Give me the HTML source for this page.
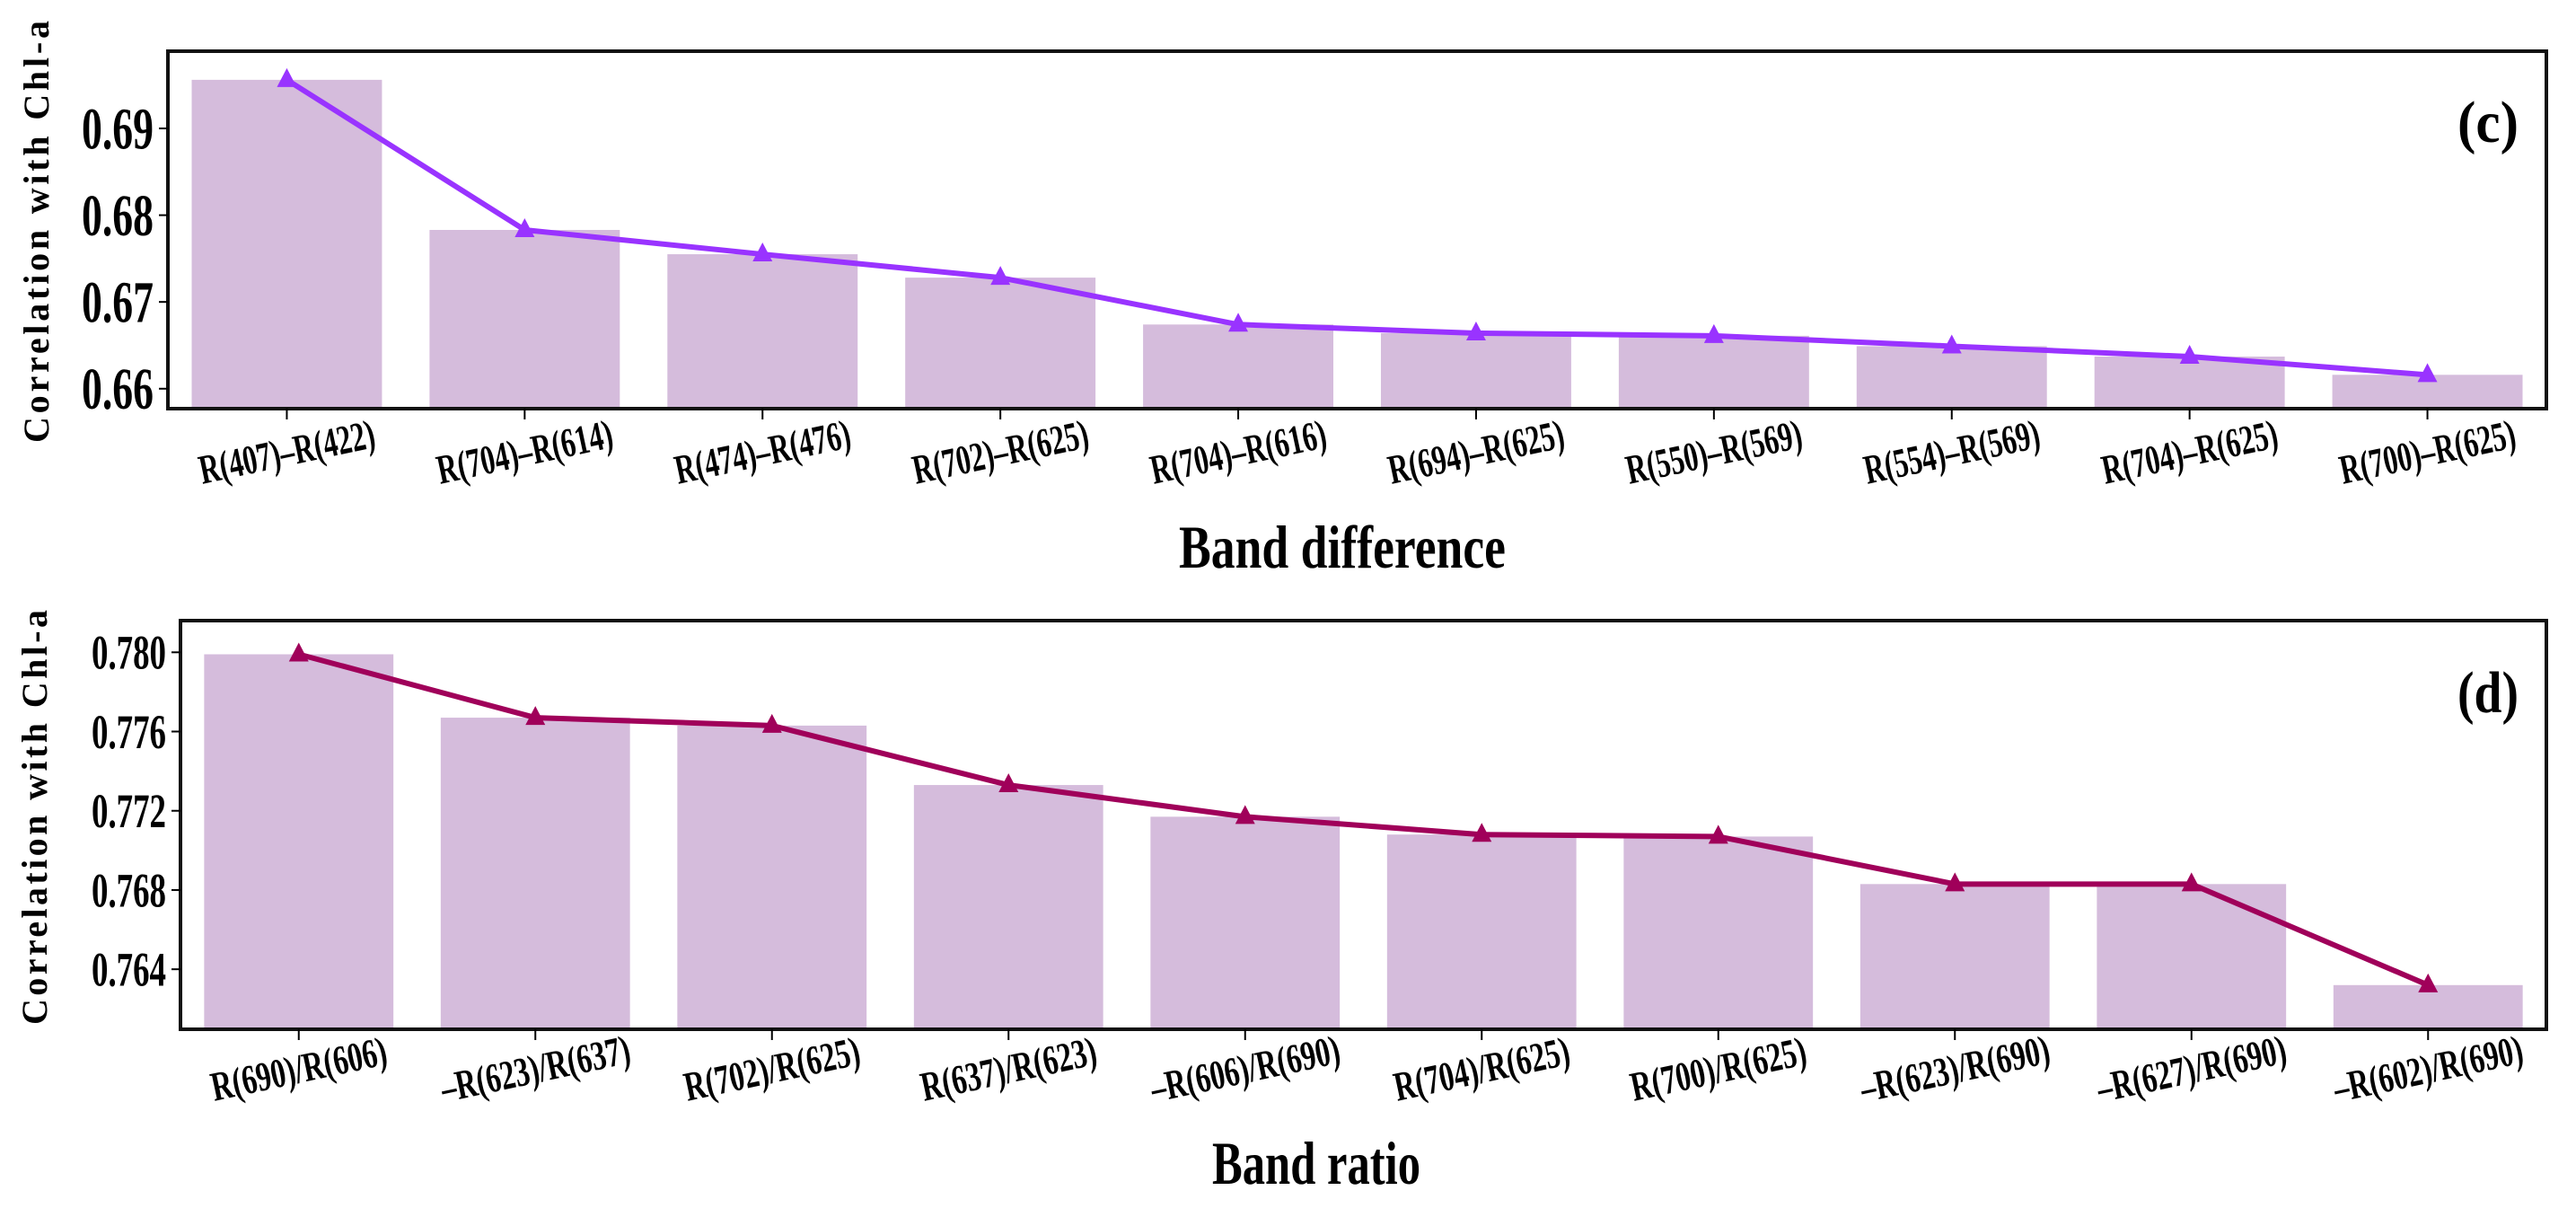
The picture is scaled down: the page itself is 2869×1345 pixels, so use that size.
<!DOCTYPE html>
<html><head><meta charset="utf-8"><style>
html,body{margin:0;padding:0;background:#fff;}
svg{display:block;}
text{font-family:"Liberation Serif",serif;font-weight:bold;fill:#000;}
</style></head><body>
<svg id="chart" width="2869" height="1345" viewBox="0 0 2869 1345" xmlns="http://www.w3.org/2000/svg"></svg>
<script>
// Panel (c) data
const catsC = ["R(407)–R(422)","R(704)–R(614)","R(474)–R(476)","R(702)–R(625)","R(704)–R(616)","R(694)–R(625)","R(550)–R(569)","R(554)–R(569)","R(704)–R(625)","R(700)–R(625)"];
const valsC = [0.6956,0.6783,0.6755,0.6728,0.6674,0.6664,0.6661,0.6649,0.6637,0.6616];
const ticksC = [0.66,0.67,0.68,0.69];
const tickLabelsC = ["0.66","0.67","0.68","0.69"];
// Panel (d) data
const catsD = ["R(690)/R(606)","–R(623)/R(637)","R(702)/R(625)","R(637)/R(623)","–R(606)/R(690)","R(704)/R(625)","R(700)/R(625)","–R(623)/R(690)","–R(627)/R(690)","–R(602)/R(690)"];
const valsD = [0.7799,0.7767,0.7763,0.7733,0.7717,0.7708,0.7707,0.7683,0.7683,0.7632];
const ticksD = [0.764,0.768,0.772,0.776,0.780];
const tickLabelsD = ["0.764","0.768","0.772","0.776","0.780"];

const NS = "http://www.w3.org/2000/svg";
const svg = document.getElementById("chart");
function mk(tag, attrs, parent){
  const e = document.createElementNS(NS, tag);
  for (const k in attrs) e.setAttribute(k, attrs[k]);
  (parent||svg).appendChild(e);
  return e;
}

function panel(o){
  const g = mk("g", {});
  
  
  const n = o.cats.length;
  const pitch = (o.x1 - o.x0) / n;
  const xs = i => o.x0 + pitch * (i + 0.5);
  const ys = v => o.y1 - (v - o.ymin) / (o.ymax - o.ymin) * (o.y1 - o.y0);
  o.vals.forEach((v, i) => {
    const bw = pitch * 0.8;
    const r = mk("rect", {x: xs(i) - bw/2, y: ys(v), width: bw, height: o.y1 - ys(v), fill: "#d5bcdc"}, g);
    
    
  });
  const pts = o.vals.map((v, i) => xs(i) + "," + ys(v)).join(" ");
  const pl = mk("polyline", {points: pts, fill: "none", stroke: o.color, "stroke-width": 6, "stroke-linejoin": "round"}, g);
  
  
  o.vals.forEach((v, i) => {
    const cx = xs(i), cy = ys(v);
    const m = mk("polygon", {points: `${cx},${cy-13} ${cx-11},${cy+8} ${cx+11},${cy+8}`, fill: o.color}, g);
    
    
  });
  const box = mk("rect", {x: o.x0, y: o.y0, width: o.x1 - o.x0, height: o.y1 - o.y0, fill: "none", stroke: "#111", "stroke-width": 4}, g);
  
  
  o.ticks.forEach((t, i) => {
    const y = ys(t);
    const tl = mk("line", {x1: o.x0 - 10, x2: o.x0, y1: y, y2: y, stroke: "#000", "stroke-width": 2}, g);
    
    
    const lab = o.tickLabels[i];
    const tx = mk("text", {x: o.x0 - 16, y: y + o.yfs*0.34, "text-anchor": "end", "font-size": o.yfs, textLength: o.ycw*lab.length, lengthAdjust: "spacingAndGlyphs"}, g);
    tx.textContent = lab;
    
    
  });
  o.cats.forEach((c, i) => {
    const x = xs(i);
    const tl = mk("line", {x1: x, x2: x, y1: o.y1, y2: o.y1 + 12, stroke: "#000", "stroke-width": 2}, g);
    
    
    const tx = mk("text", {x: 0, y: 0, "text-anchor": "middle", "dominant-baseline": "central", "font-size": 46, textLength: 15.3*c.length, lengthAdjust: "spacingAndGlyphs", transform: `translate(${x},${o.xly}) rotate(-12)`}, g);
    tx.textContent = c;
    
    
  });
  const yt = mk("text", {x: 0, y: 0, "text-anchor": "middle", "font-size": 40, textLength: o.ytLen, lengthAdjust: "spacing", transform: `translate(${o.ytx},${o.yty}) rotate(-90)`}, g);
  yt.textContent = "Correlation with Chl-a";
  
  
  const xt = mk("text", {x: o.xtx, y: o.xty, "text-anchor": "middle", "font-size": 68, textLength: o.xtLen, lengthAdjust: "spacingAndGlyphs"}, g);
  xt.textContent = o.xtitle;
  
  
  const pt = mk("text", {x: 2771, y: o.letterY, "text-anchor": "middle", "font-size": 66, textLength: 68, lengthAdjust: "spacingAndGlyphs"}, g);
  pt.textContent = o.letter;
  
  
}

panel({name: "panel-c-band-difference", cats: catsC, vals: valsC, ticks: ticksC, tickLabels: tickLabelsC,
  x0: 187, x1: 2836, y0: 57, y1: 455, ymin: 0.6577, ymax: 0.6989, color: "#9933ff",
  yfs: 66, ycw: 20, xly: 503, ytx: 54, yty: 258, ytLen: 470,
  xtitle: "Band difference", xtx: 1495, xty: 632, xtLen: 364, letter: "(c)", letterY: 158});
panel({name: "panel-d-band-ratio", cats: catsD, vals: valsD, ticks: ticksD, tickLabels: tickLabelsD,
  x0: 201, x1: 2836, y0: 691, y1: 1146, ymin: 0.76097, ymax: 0.7816, color: "#a0005a",
  yfs: 54, ycw: 16.6, xly: 1190, ytx: 52, yty: 910, ytLen: 462,
  xtitle: "Band ratio", xtx: 1466, xty: 1318, xtLen: 232, letter: "(d)", letterY: 793});
</script>
</body></html>
